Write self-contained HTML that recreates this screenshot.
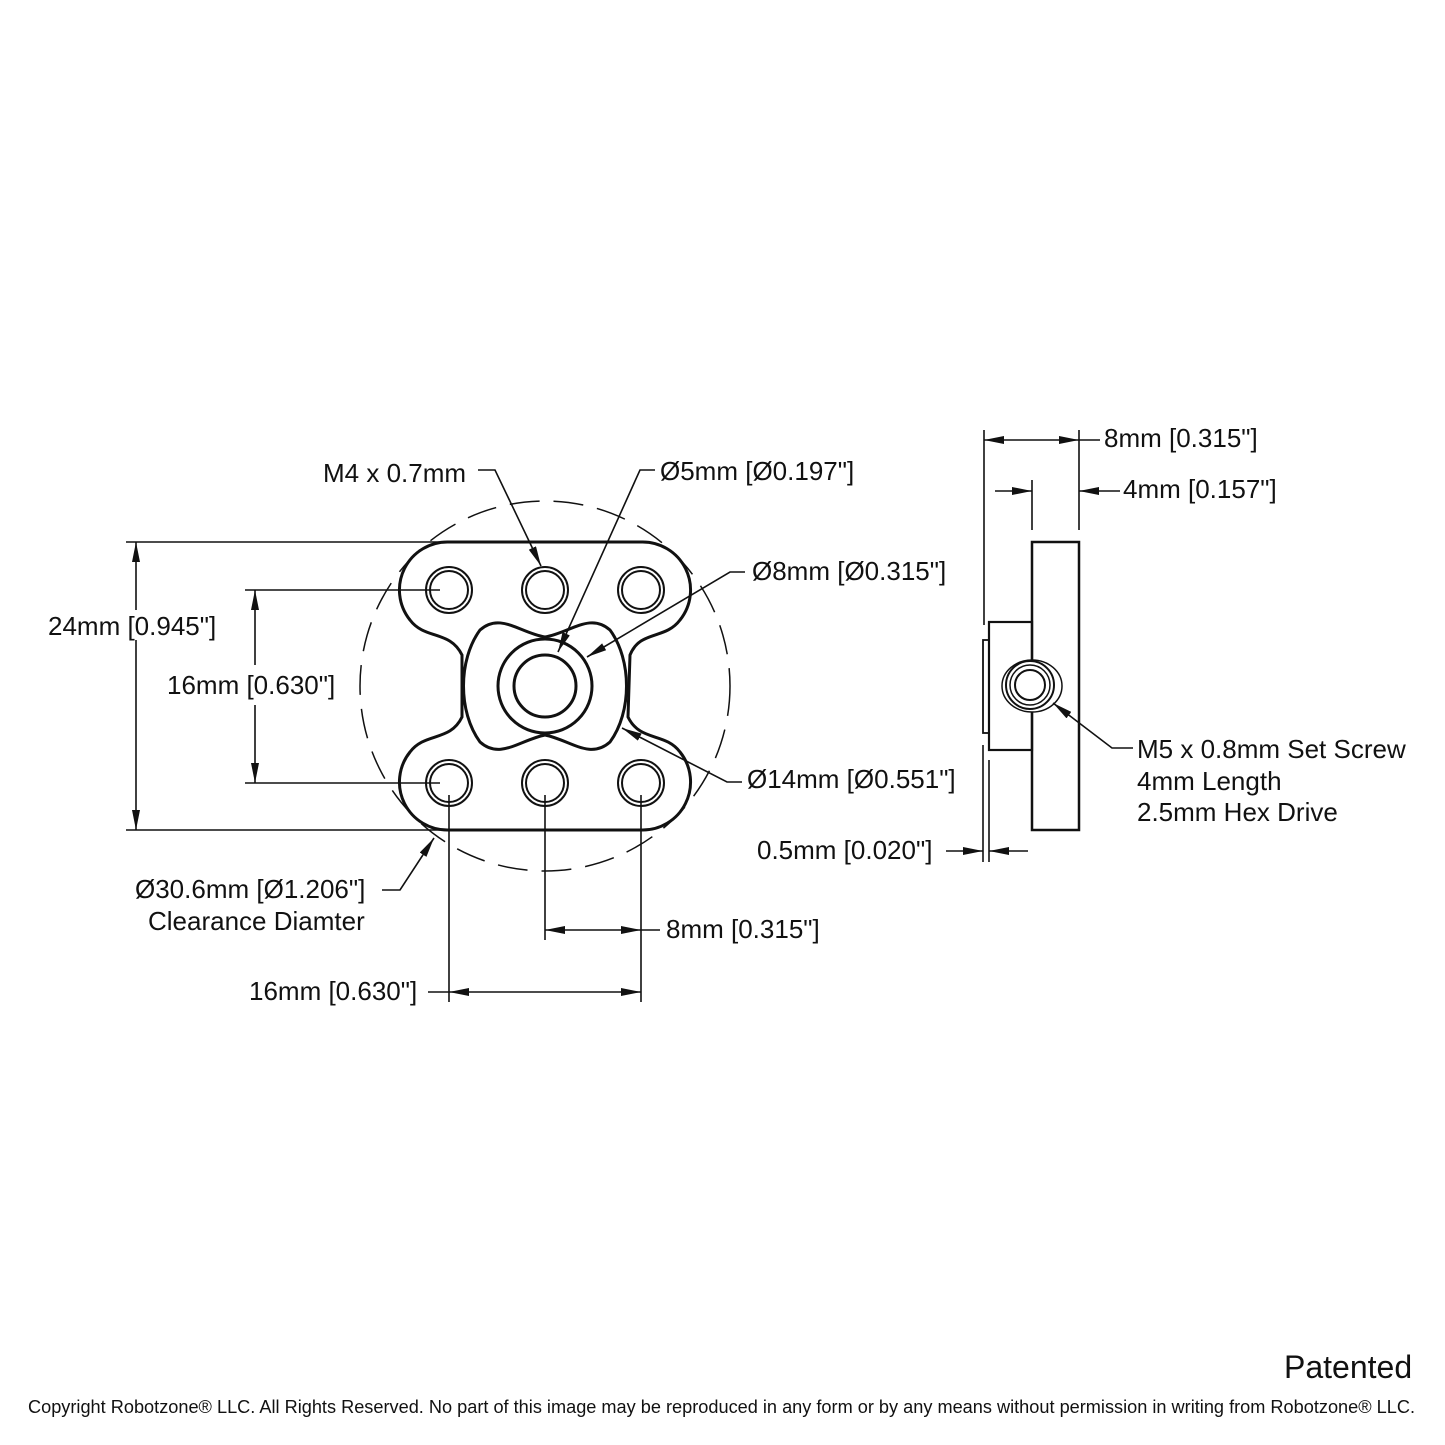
<!DOCTYPE html>
<html><head><style>
html,body{margin:0;padding:0;background:#fff}
svg{display:block}
text{font-family:"Liberation Sans",sans-serif;font-size:26px;fill:#111}
</style></head><body>
<svg width="1445" height="1445" viewBox="0 0 1445 1445" xmlns="http://www.w3.org/2000/svg">
<defs>
<marker id="a" viewBox="0 0 20 8" refX="20" refY="4" markerWidth="20" markerHeight="8" markerUnits="userSpaceOnUse" orient="auto-start-reverse">
<path d="M0,0 L20,4 L0,8 Z" fill="#111"/></marker>
</defs>
<g fill="none" stroke="#111">
<circle cx="545" cy="686" r="185" stroke-width="1.5" stroke-dasharray="30,14"/>
<path d="M449,542 L641,542 A48,48 0 0 1 680,620 C665,640 640,630 630,655 L628,717 C640,742 665,732 680,752 A48,48 0 0 1 641,830 L449,830 A48,48 0 0 1 410,752 C425,732 450,742 462,717 L462,655 C450,630 425,640 410,620 A48,48 0 0 1 449,542 Z" stroke-width="3" fill="#fff"/>
<path d="M480,630 C500,612 520,633 545,637 C570,633 590,612 610,630 C632,660 632,712 610,742 C590,760 570,740 545,735 C520,740 500,760 480,742 C458,712 458,660 480,630 Z" stroke-width="3"/>
<circle cx="545" cy="686" r="47" stroke-width="3"/>
<circle cx="545" cy="686" r="31" stroke-width="3"/>
<g stroke-width="2">
<circle cx="449" cy="590" r="23"/><circle cx="449" cy="590" r="19"/>
<circle cx="545" cy="590" r="23"/><circle cx="545" cy="590" r="19"/>
<circle cx="641" cy="590" r="23"/><circle cx="641" cy="590" r="19"/>
<circle cx="449" cy="783" r="23"/><circle cx="449" cy="783" r="19"/>
<circle cx="545" cy="783" r="23"/><circle cx="545" cy="783" r="19"/>
<circle cx="641" cy="783" r="23"/><circle cx="641" cy="783" r="19"/>
</g>
<g stroke-width="1.6">
<line x1="126" y1="542" x2="440" y2="542"/><line x1="126" y1="830" x2="440" y2="830"/>
<line x1="136" y1="542" x2="136" y2="610" marker-start="url(#a)"/>
<line x1="136" y1="640" x2="136" y2="830" marker-end="url(#a)"/>
<line x1="245" y1="590" x2="440" y2="590"/><line x1="245" y1="783" x2="440" y2="783"/>
<line x1="255" y1="590" x2="255" y2="665" marker-start="url(#a)"/>
<line x1="255" y1="705" x2="255" y2="783" marker-end="url(#a)"/>
<line x1="449" y1="795" x2="449" y2="1002"/>
<line x1="545" y1="795" x2="545" y2="940"/>
<line x1="641" y1="795" x2="641" y2="1002"/>
<line x1="545" y1="930" x2="641" y2="930" marker-start="url(#a)" marker-end="url(#a)"/>
<line x1="660" y1="930" x2="641" y2="930"/>
<line x1="449" y1="992" x2="641" y2="992" marker-start="url(#a)" marker-end="url(#a)"/>
<line x1="428" y1="992" x2="449" y2="992"/>
<polyline points="478,470 495,470 541,566" marker-end="url(#a)"/>
<polyline points="655,470 640,470 558,652" marker-end="url(#a)"/>
<polyline points="745,572 730,572 587,657" marker-end="url(#a)"/>
<polyline points="742,782 727,782 622,728" marker-end="url(#a)"/>
<polyline points="382,890 400,890 434,838" marker-end="url(#a)"/>
<rect x="1032" y="542" width="47" height="288" stroke-width="2.5" fill="#fff"/>
<rect x="989" y="622" width="43" height="128" stroke-width="2.2"/>
<rect x="983" y="640" width="6" height="93" stroke-width="1.8"/>
<ellipse cx="1032" cy="686" rx="30" ry="26" stroke-width="1.5" fill="#fff"/>
<circle cx="1030" cy="685" r="24" stroke-width="2"/>
<circle cx="1030" cy="685" r="20" stroke-width="1.5"/>
<circle cx="1030" cy="685" r="15" stroke-width="2"/>
<line x1="984" y1="430" x2="984" y2="625"/>
<line x1="1079" y1="430" x2="1079" y2="530"/>
<line x1="1032" y1="480" x2="1032" y2="530"/>
<line x1="984" y1="440" x2="1079" y2="440" marker-start="url(#a)" marker-end="url(#a)"/>
<line x1="1079" y1="440" x2="1100" y2="440"/>
<line x1="995" y1="491" x2="1032" y2="491" marker-end="url(#a)"/>
<line x1="1120" y1="491" x2="1079" y2="491" marker-end="url(#a)"/>
<line x1="983" y1="745" x2="983" y2="862"/>
<line x1="989" y1="760" x2="989" y2="862"/>
<line x1="946" y1="851" x2="983" y2="851" marker-end="url(#a)"/>
<line x1="1028" y1="851" x2="989" y2="851" marker-end="url(#a)"/>
<polyline points="1133,748 1112,748 1053,703" marker-end="url(#a)"/>
</g>
</g>
<text x="323" y="482">M4 x 0.7mm</text>
<text x="660" y="480">Ø5mm [Ø0.197"]</text>
<text x="752" y="580">Ø8mm [Ø0.315"]</text>
<text x="48" y="635">24mm [0.945"]</text>
<text x="167" y="694">16mm [0.630"]</text>
<text x="747" y="788">Ø14mm [Ø0.551"]</text>
<text x="135" y="898">Ø30.6mm [Ø1.206"]</text>
<text x="148" y="930">Clearance Diamter</text>
<text x="666" y="938">8mm [0.315"]</text>
<text x="249" y="1000">16mm [0.630"]</text>
<text x="1104" y="447">8mm [0.315"]</text>
<text x="1123" y="498">4mm [0.157"]</text>
<text x="1137" y="758">M5 x 0.8mm Set Screw</text>
<text x="1137" y="790">4mm Length</text>
<text x="1137" y="821">2.5mm Hex Drive</text>
<text x="757" y="859">0.5mm [0.020"]</text>
<text x="1284" y="1378" style="font-size:32px">Patented</text>
<text x="28" y="1413" style="font-size:18px" textLength="1387" lengthAdjust="spacingAndGlyphs">Copyright Robotzone® LLC.  All Rights Reserved. No part of this image may be reproduced in any form or by any means without permission in writing from Robotzone® LLC.</text>
</svg>
</body></html>
